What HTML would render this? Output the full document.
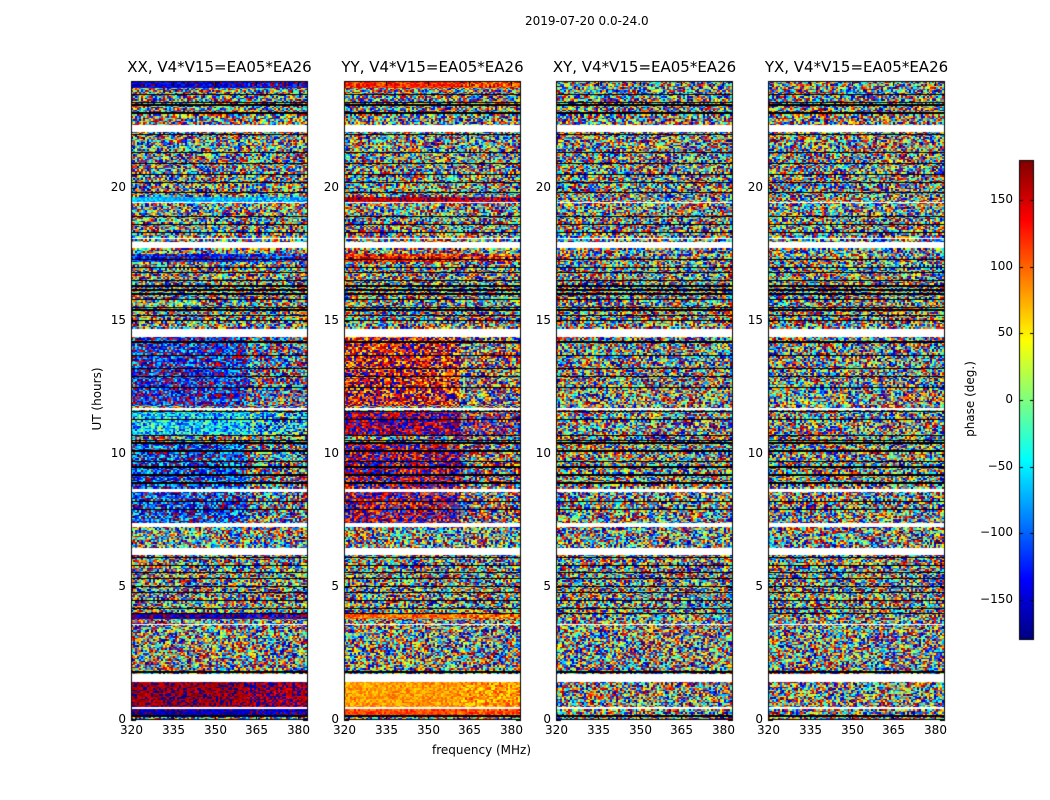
<!DOCTYPE html>
<html><head><meta charset="utf-8"><style>
body{margin:0;background:#fff;font-family:"DejaVu Sans","Liberation Sans",sans-serif;}
#wrap{position:relative;width:1050px;height:800px;overflow:hidden;background:#fff;}
.t{position:absolute;white-space:nowrap;color:#000;}
canvas{position:absolute;}
</style></head><body>
<div id="wrap">
<div class="t" style="left:525px;top:14px;font-size:12px;">2019-07-20 0.0-24.0</div>
<div class="t" style="left:52px;top:392px;font-size:12px;transform:rotate(-90deg);transform-origin:center;width:90px;text-align:center;">UT (hours)</div>
<div class="t" style="left:432px;top:743px;font-size:12px;">frequency (MHz)</div>
<div class="t" style="left:925px;top:392px;font-size:12px;transform:rotate(-90deg);width:90px;text-align:center;">phase (deg.)</div>
<canvas id="cv" width="1050" height="800" style="left:0;top:0"></canvas>
</div>
<script>
// ---- data ----
const panelTitles = ["XX, V4*V15=EA05*EA26","YY, V4*V15=EA05*EA26","XY, V4*V15=EA05*EA26","YX, V4*V15=EA05*EA26"];
const panelLefts = [131,344,556,768];
const hourTicks = [0,5,10,15,20];
const freqTicks = [320,335,350,365,380];
const cbTicks = [150,100,50,0,-50,-100,-150];
// flagged (white) time ranges in hours
const flagStart = [0.42,1.42,3.55,6.18,7.26,8.58,11.65,14.4,17.74,18.05,19.4,22.1];
const flagEnd   = [0.47,1.73,3.62,6.47,7.41,8.66,11.7,14.67,17.95,18.1,19.45,22.35];
// black line hours
const blackHours = [0.15,1.8,4.0,4.2,4.5,4.8,5.0,5.3,5.55,5.8,6.1,7.9,8.2,8.9,9.2,9.5,9.7,10.1,10.4,10.5,10.7,11.3,11.6,12.5,12.9,13.2,13.7,14.2,15.0,15.2,15.4,15.5,15.8,16.0,16.15,16.3,16.5,16.8,17.0,17.3,18.3,18.6,18.9,19.8,20.2,20.5,20.9,21.3,22.0,22.8,23.1,23.2,23.5];
// coherent phase bands: start hour, end hour, mean phase per panel (null = noise), spread deg
const bandStart = [0.16,0.47,3.8,7.4,10.7,11.8,17.2,19.45,23.75];
const bandEnd   = [0.42,1.42,4.0,10.4,11.6,14.4,17.5,19.65,23.95];
const bandXX    = [-160,170,-165,-120,-60,-135,-140,-70,-150];
const bandYY    = [110,80,100,170,175,140,130,160,120];
const bandSpread= [25,25,40,100,80,100,60,30,40];
const bandXY    = [null,null,null,null,null,null,null,null,null];
const bandYX    = [null,null,null,null,null,null,null,null,null];
const panelBands=[bandXX,bandYY,bandXY,bandYX];

// ---- axes ----
const top0=81, bot0=720, pw=177, fMin=320, fMax=383.5, hMax=24;
const yOf=h=>bot0-(h/hMax)*(bot0-top0);
const xOf=(i,f)=>panelLefts[i]+(f-fMin)/(fMax-fMin)*pw;
const cbTop=160,cbBot=640,cbX=1019,cbW=15;
const cbY=p=>cbBot-(p+180)/360*(cbBot-cbTop);

function jet(v){
  const c=x=>Math.max(0,Math.min(1,x));
  const r=c(1.5-Math.abs(4*v-3)), g=c(1.5-Math.abs(4*v-2)), b=c(1.5-Math.abs(4*v-1));
  return [r*255|0,g*255|0,b*255|0];
}
function hash(a,b,c){let h=(a*374761393+b*668265263+c*2246822519)>>>0;h=(h^(h>>>13))*1274126177>>>0;return ((h^(h>>>16))>>>0)/4294967296;}

const cv=document.getElementById('cv'),ctx=cv.getContext('2d');
const wrap=document.getElementById('wrap');
function label(txt,x,y,size,name,align){
  const d=document.createElement('div');d.className='t';d.textContent=txt;
  d.style.fontSize=size+'px';d.style.top=y+'px';
  if(align==='c'){d.style.left=(x-100)+'px';d.style.width='200px';d.style.textAlign='center';}
  else if(align==='r'){d.style.left=(x-60)+'px';d.style.width='60px';d.style.textAlign='right';}
  else d.style.left=x+'px';
  
  
  wrap.appendChild(d);
}
const nCh=64, nT=420;
for(let p=0;p<4;p++){
  const img=ctx.createImageData(pw,bot0-top0);
  const H=bot0-top0;
  for(let ty=0;ty<H;ty++){
    const h=(H-ty-0.5)/H*hMax;
    const ti=Math.floor(h/hMax*nT);
    let flagged=false;
    for(let k=0;k<flagStart.length;k++) if(h>=flagStart[k]&&h<flagEnd[k]) flagged=true;
    let black=false;
    for(const bh of blackHours) if(Math.abs(yOf(bh)-(top0+ty+0.5))<0.6) black=true;
    let mean=null,spr=180;
    for(let k=0;k<bandStart.length;k++) if(h>=bandStart[k]&&h<bandEnd[k]&&panelBands[p][k]!==null){mean=panelBands[p][k];spr=bandSpread[k];}
    for(let tx=0;tx<pw;tx++){
      const ci=Math.floor(tx/pw*nCh*1.4);
      let col;
      if(flagged) col=[255,255,255];
      else if(black) col=[0,0,0];
      else{
        const r=hash(ci,ti,p);
        let ph;
        if(mean===null) ph=r*360-180;
        else{ph=mean+(r-0.5)*2*spr*(tx>pw*0.65?1.6:1);}
        ph=((ph+180)%360+360)%360-180;
        col=jet((ph+180)/360);
      }
      const o=(ty*pw+tx)*4;img.data[o]=col[0];img.data[o+1]=col[1];img.data[o+2]=col[2];img.data[o+3]=255;
    }
  }
  ctx.putImageData(img,panelLefts[p],top0);
  ctx.strokeStyle='#000';ctx.lineWidth=1;
  ctx.strokeRect(panelLefts[p]+0.5,top0+0.5,pw-1,H-1);
  for(const f of freqTicks){const x=Math.round(xOf(p,f))+0.5;
    ctx.beginPath();ctx.moveTo(x,bot0);ctx.lineTo(x,bot0-5);ctx.moveTo(x,top0);ctx.lineTo(x,top0+5);ctx.stroke();
    label(String(f),x,723,12,'x-tick-label','c');}
  for(const t of hourTicks){const y=Math.round(yOf(t))+0.5;
    ctx.beginPath();ctx.moveTo(panelLefts[p],y);ctx.lineTo(panelLefts[p]+5,y);ctx.moveTo(panelLefts[p]+pw,y);ctx.lineTo(panelLefts[p]+pw-5,y);ctx.stroke();
    label(String(t),panelLefts[p]-5,y-9,12,'y-tick-label','r');}
  label(panelTitles[p],panelLefts[p]+pw/2,58,15,'panel-title','c');
}
// colorbar
for(let y=cbTop;y<cbBot;y++){const v=(cbBot-y-0.5)/(cbBot-cbTop);const c=jet(v);ctx.fillStyle='rgb('+c+')';ctx.fillRect(cbX,y,cbW,1);}
ctx.strokeRect(cbX+0.5,cbTop+0.5,cbW-1,cbBot-cbTop-1);
for(const t of cbTicks){const y=Math.round(cbY(t))+0.5;
  ctx.beginPath();ctx.moveTo(cbX,y);ctx.lineTo(cbX+4,y);ctx.moveTo(cbX+cbW,y);ctx.lineTo(cbX+cbW-4,y);ctx.stroke();
  label(t<0?'\u2212'+(-t):String(t),1013,y-9,12,'colorbar-tick-label','r');}
</script>
</body></html>
